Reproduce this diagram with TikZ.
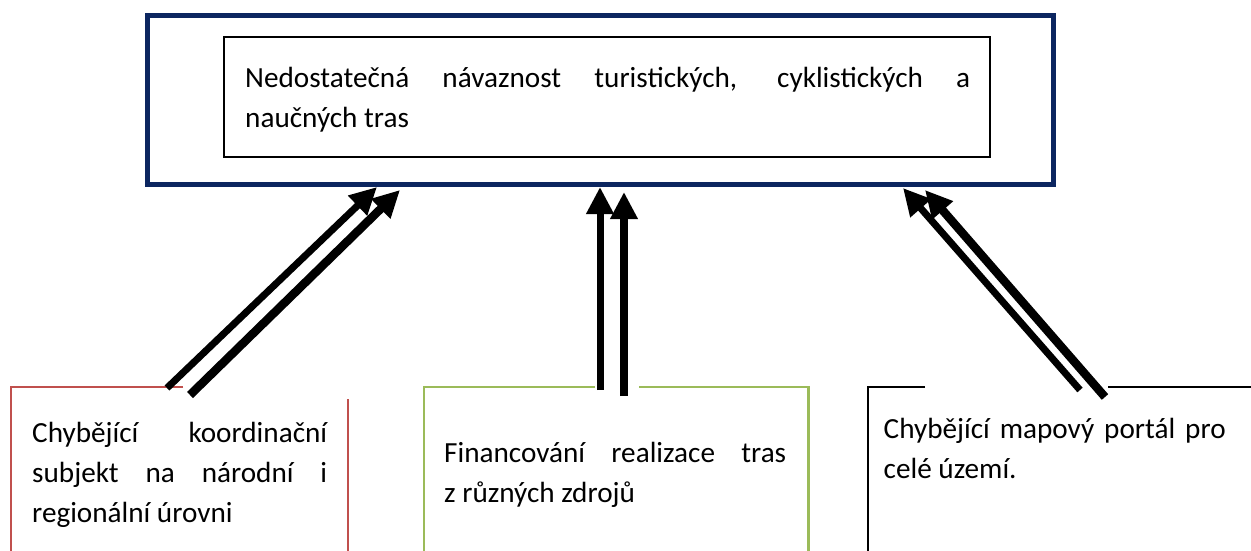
\documentclass[tikz,border=0pt]{standalone}
\usepackage{fontspec}
\setmainfont{Carlito}
\usetikzlibrary{arrows.meta, positioning, calc}
\definecolor{frameBlue}{HTML}{0C2660}
\definecolor{causeRed}{HTML}{C0504D}
\definecolor{causeGreen}{HTML}{9BBB59}
\newcommand{\boxfont}{\fontsize{29.2}{40}\selectfont\tolerance=10000\hbadness=10000}

\begin{document}
\begin{tikzpicture}[x=1pt, y=-1pt,
        boxtext/.style={inner sep=0pt, anchor=base west, align=justify, font=\boxfont},
        cause/.style={black, line width=7pt, -{Triangle[length=27pt, width=26pt]}},
        causeb/.style={cause, line width=8.5pt}]
    \clip (0,0) rectangle (1251,551);
    % problem
    \node[draw=frameBlue, line width=5pt, minimum width=906pt, minimum height=168pt] (frame) at (600.5,100) {};
    \node[draw, line width=1.3pt, minimum width=766pt, minimum height=120pt] (problem) at (607,97) {};
    \node[boxtext, text width=725pt] (problemtext) at (245,87.5) {Nedostatečná návaznost turistických, cyklistických a\linebreak naučných tras};
    % causes
    \node[minimum width=337pt, minimum height=200pt, anchor=north west] (coord) at (11,387) {};
    \node[minimum width=384pt, minimum height=200pt, anchor=north west] (fin) at (424,387) {};
    \node[minimum width=420pt, minimum height=200pt, anchor=north west] (map) at (868,387) {};
    \draw[causeRed, line width=2pt] ([xshift=172pt]coord.north west) -- (coord.north west) -- (coord.south west)
        ([yshift=-12pt]coord.north east) -- (coord.south east);
    \draw[causeGreen, line width=2.5pt] ([xshift=171pt]fin.north west) -- (fin.north west) -- (fin.south west)
        ([xshift=-169pt]fin.north east) -- (fin.north east) -- (fin.south east);
    \draw[line width=2pt] ([xshift=57pt]map.north west) -- (map.north west) -- (map.south west)
        ([xshift=240pt]map.north west) -- (map.north east);
    \node[boxtext, text width=295pt] (coordtext) at (32,442.5) {Chybějící koordinační\linebreak subjekt na národní i\linebreak regionální úrovni};
    \node[boxtext, text width=342pt] (fintext) at (444,462.5) {Financování realizace tras\linebreak z různých zdrojů};
    \node[boxtext, text width=342pt] (maptext) at (883.5,438) {Chybějící mapový portál pro\linebreak celé území.};
    % arrows
    \coordinate (l1s) at (167,388); \coordinate (l1e) at (377,187);
    \coordinate (l2s) at (190,395); \coordinate (l2e) at (400,190);
    \coordinate (m1s) at (600,390); \coordinate (m1e) at (600,187);
    \coordinate (m2s) at (624,396); \coordinate (m2e) at (624,192);
    \coordinate (r1s) at (1080,390); \coordinate (r1e) at (903,188);
    \coordinate (r2s) at (1105,397); \coordinate (r2e) at (925,190);
    \foreach \a/\b in {l1s/l1e, m1s/m1e, r1s/r1e} \draw[cause] (\a) -- (\b);
    \foreach \a/\b in {l2s/l2e, m2s/m2e, r2s/r2e} \draw[causeb] (\a) -- (\b);
\end{tikzpicture}
\end{document}
